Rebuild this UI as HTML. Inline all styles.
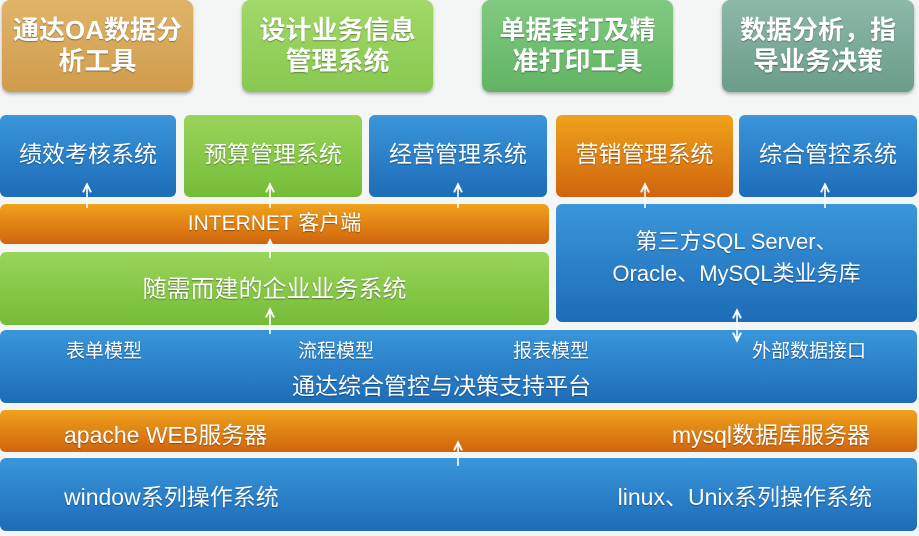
<!DOCTYPE html>
<html><head><meta charset="utf-8"><style>
body{margin:0;width:919px;height:536px;background:#f4f6f6;position:relative;overflow:hidden;font-family:"Liberation Sans","Noto Sans CJK SC",sans-serif;}
.b{position:absolute;color:#fff;display:flex;align-items:center;justify-content:center;text-align:center;box-sizing:border-box;text-shadow:0 1px 1px rgba(0,0,0,.35);}
.top{border-radius:8px;font-size:26px;font-weight:bold;line-height:31px;box-shadow:0 2px 3px rgba(0,0,0,.3);}
.mid{border-radius:6px;font-size:23px;}
.blue{background:linear-gradient(#3a96da,#1d6cb8);}
.green{background:linear-gradient(#9ad45a,#74bc38);}
.orange{background:linear-gradient(#f0a21c,#d0640e);}
.t{position:absolute;color:#fff;font-size:19px;white-space:nowrap;text-shadow:0 1px 1px rgba(0,0,0,.35);}
</style></head><body>
<div class="b top" style="left:2px;top:0;width:191px;height:92px;background:linear-gradient(#e0b468,#cf9c4c);">通达OA数据分<br>析工具</div>
<div class="b top" style="left:242px;top:0;width:191px;height:92px;background:linear-gradient(#a2d868,#88c850);">设计业务信息<br>管理系统</div>
<div class="b top" style="left:482px;top:0;width:191px;height:92px;background:linear-gradient(#80ca80,#62b464);">单据套打及精<br>准打印工具</div>
<div class="b top" style="left:722px;top:0;width:192px;height:92px;background:linear-gradient(#8cb8a8,#6c9c8a);">数据分析，指<br>导业务决策</div>

<div class="b mid blue" style="left:0;top:115px;width:176px;height:82px;padding-bottom:8px;">绩效考核系统</div>
<div class="b mid green" style="left:184px;top:115px;width:178px;height:82px;padding-bottom:8px;">预算管理系统</div>
<div class="b mid blue" style="left:369px;top:115px;width:178px;height:82px;padding-bottom:8px;">经营管理系统</div>
<div class="b mid orange" style="left:556px;top:115px;width:177px;height:82px;padding-bottom:8px;">营销管理系统</div>
<div class="b mid blue" style="left:739px;top:115px;width:178px;height:82px;padding-bottom:8px;">综合管控系统</div>

<div class="b mid orange" style="left:0;top:204px;width:549px;height:40px;font-size:21px;padding-bottom:4px;">INTERNET 客户端</div>
<div class="b mid green" style="left:0;top:252px;width:549px;height:73px;font-size:24px;padding-bottom:4px;">随需而建的企业业务系统</div>
<div class="b mid blue" style="left:556px;top:204px;width:361px;height:118px;font-size:22px;line-height:32px;padding-bottom:10px;">第三方SQL Server、<br>Oracle、MySQL类业务库</div>

<div class="b blue" style="left:0;top:330px;width:917px;height:73px;border-radius:6px;"></div>
<div class="t" style="left:66px;top:336px;">表单模型</div>
<div class="t" style="left:298px;top:336px;">流程模型</div>
<div class="t" style="left:513px;top:336px;">报表模型</div>
<div class="t" style="left:752px;top:336px;">外部数据接口</div>
<div class="t" style="left:292px;top:367px;font-size:23px;">通达综合管控与决策支持平台</div>

<div class="b orange" style="left:0;top:410px;width:917px;height:42px;border-radius:5px;"></div>
<div class="t" style="left:64px;top:416px;font-size:23px;">apache WEB服务器</div>
<div class="t" style="right:49px;top:416px;font-size:23px;">mysql数据库服务器</div>

<div class="b blue" style="left:0;top:458px;width:917px;height:73px;border-radius:6px;"></div>
<div class="t" style="left:64px;top:478px;font-size:23px;">window系列操作系统</div>
<div class="t" style="right:47px;top:478px;font-size:23px;">linux、Unix系列操作系统</div>

<svg style="position:absolute;left:0;top:0" width="919" height="536">
<defs><marker id="a" markerWidth="8" markerHeight="8" refX="4" refY="4" orient="auto"><path d="M0,1.5 L5,4 L0,6.5" fill="none" stroke="#fff" stroke-width="1.2"/></marker></defs>
<g stroke="#fff" stroke-width="1.6" marker-end="url(#a)">
<line x1="87" y1="208" x2="87" y2="186"/>
<line x1="270" y1="208" x2="270" y2="186"/>
<line x1="458" y1="208" x2="458" y2="186"/>
<line x1="645" y1="208" x2="645" y2="186"/>
<line x1="825" y1="208" x2="825" y2="186"/>
<line x1="270" y1="258" x2="270" y2="242"/>
<line x1="270" y1="334" x2="270" y2="311"/>
<line x1="458" y1="466" x2="458" y2="444"/>
<line x1="737" y1="325" x2="737" y2="312"/>
<line x1="737" y1="326" x2="737" y2="339"/>
</g>
</svg>
</body></html>
